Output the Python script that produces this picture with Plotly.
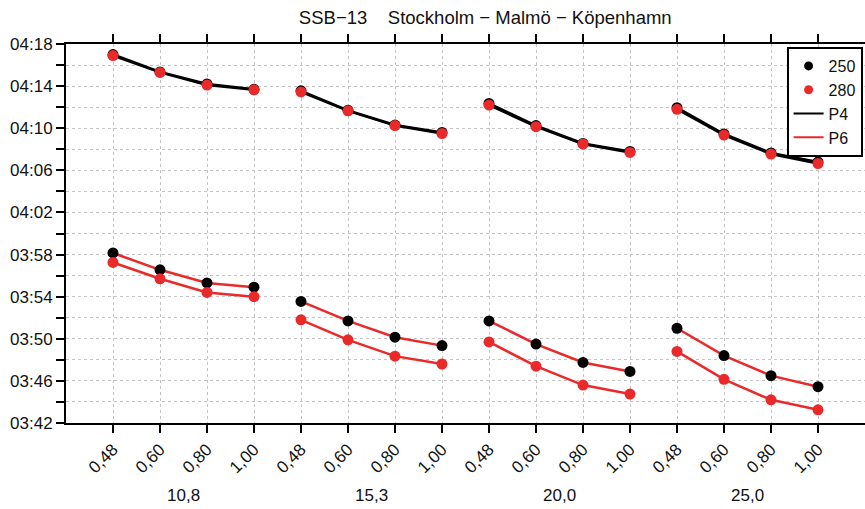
import plotly.graph_objects as go

# ---- data ----
groups = ["10,8", "15,3", "20,0", "25,0"]
subs = ["0,48", "0,60", "0,80", "1,00"]
y_tick_labels = ["03:42", "03:46", "03:50", "03:54", "03:58", "04:02",
                 "04:06", "04:10", "04:14", "04:18"]

# travel time in minutes (h*60 + m), one list per group, values per sub category
p4_250 = [[257.0, 255.35, 254.2, 253.7],
          [253.55, 251.7, 250.3, 249.6],
          [252.35, 250.25, 248.55, 247.8],
          [251.95, 249.45, 247.65, 246.8]]
p4_280 = [[256.9, 255.3, 254.1, 253.65],
          [253.45, 251.65, 250.25, 249.5],
          [252.2, 250.15, 248.5, 247.7],
          [251.8, 249.35, 247.55, 246.65]]
p6_250 = [[238.15, 236.55, 235.3, 234.9],
          [233.55, 231.7, 230.15, 229.35],
          [231.7, 229.5, 227.75, 226.9],
          [231.0, 228.4, 226.5, 225.45]]
p6_280 = [[237.25, 235.7, 234.4, 234.0],
          [231.8, 229.9, 228.35, 227.6],
          [229.7, 227.4, 225.6, 224.75],
          [228.8, 226.15, 224.2, 223.25]]

BLACK = "#000000"
RED = "#EA2A2A"
GRID = "#C4C4C4"
FONT = "Liberation Sans, Arial, sans-serif"

n_sub = len(subs)
positions = [gi * n_sub + si for gi in range(len(groups)) for si in range(n_sub)]
ticktext = [s for _ in groups for s in subs]


def flatten(series):
    xs, ys = [], []
    for gi, vals in enumerate(series):
        for si, v in enumerate(vals):
            xs.append(gi * n_sub + si)
            ys.append(v)
        xs.append(None)
        ys.append(None)
    return xs, ys


fig = go.Figure()

for series, line_col, mark_col in [
    (p6_250, RED, BLACK),
    (p6_280, RED, RED),
    (p4_250, BLACK, BLACK),
    (p4_280, BLACK, RED),
]:
    xs, ys = flatten(series)
    fig.add_trace(go.Scatter(
        x=xs, y=ys, mode="lines+markers", connectgaps=False,
        line=dict(color=line_col, width=2.5),
        marker=dict(color=mark_col, size=11),
        showlegend=False, hoverinfo="skip"))

# legend entries
fig.add_trace(go.Scatter(x=[None], y=[None], mode="markers", name="250",
                         marker=dict(color=BLACK, size=9)))
fig.add_trace(go.Scatter(x=[None], y=[None], mode="markers", name="280",
                         marker=dict(color=RED, size=9)))
fig.add_trace(go.Scatter(x=[None], y=[None], mode="lines", name="P4",
                         line=dict(color=BLACK, width=2)))
fig.add_trace(go.Scatter(x=[None], y=[None], mode="lines", name="P6",
                         line=dict(color=RED, width=2)))


def to_min(lbl):
    h, m = lbl.split(":")
    return int(h) * 60 + int(m)


y_tickvals = [to_min(t) for t in y_tick_labels]

for gi, g in enumerate(groups):
    center = gi * n_sub + (n_sub - 1) / 2
    fig.add_annotation(x=center, y=-0.19, xref="x", yref="paper",
                       text=g, showarrow=False,
                       font=dict(size=17, color="#111", family=FONT),
                       xanchor="center", yanchor="middle")

fig.update_layout(
    width=865, height=509,
    margin=dict(l=66, r=0, t=44, b=86, autoexpand=False),
    paper_bgcolor="white", plot_bgcolor="white",
    font=dict(family=FONT, color="#111"),
    title=dict(text="SSB\u221213    Stockholm \u2212 Malmö \u2212 Köpenhamn",
               x=0.561, xanchor="center", y=0.965, yanchor="middle",
               font=dict(size=18.5, family=FONT, color="#111")),
    legend=dict(x=0.997, xanchor="right", y=0.992, yanchor="top",
                bgcolor="white", bordercolor="black", borderwidth=2,
                font=dict(size=16, family=FONT, color="#111"),
                itemwidth=30, tracegroupgap=0),
    showlegend=True,
)

fig.update_xaxes(
    range=[-1, 16], tickmode="array", tickvals=positions, ticktext=ticktext,
    tickangle=-45, ticks="outside", ticklen=8, tickwidth=2, tickcolor="black",
    showline=True, linecolor="black", linewidth=2, mirror="ticks",
    showgrid=True, gridcolor=GRID, griddash="dot", gridwidth=1,
    zeroline=False, automargin=False,
    tickfont=dict(size=17, family=FONT, color="#111"),
)
fig.update_yaxes(
    range=[222, 258], tickmode="array", tickvals=y_tickvals,
    ticktext=y_tick_labels, ticks="outside", ticklen=8, tickwidth=2,
    tickcolor="black", showline=True, linecolor="black", linewidth=2,
    mirror=False, showgrid=True, gridcolor=GRID, griddash="dot",
    gridwidth=1, zeroline=False, automargin=False,
    tickfont=dict(size=17, family=FONT, color="#111"),
    minor=dict(tickmode="linear", tick0=222, dtick=2, ticks="outside",
               ticklen=8, tickwidth=2, tickcolor="black", showgrid=True,
               gridcolor=GRID, griddash="dot", gridwidth=1),
)

fig.write_html("out.html",
               config={"displayModeBar": False},
               post_script="document.body.style.margin='0';"
                           "document.body.style.overflow='hidden';")
